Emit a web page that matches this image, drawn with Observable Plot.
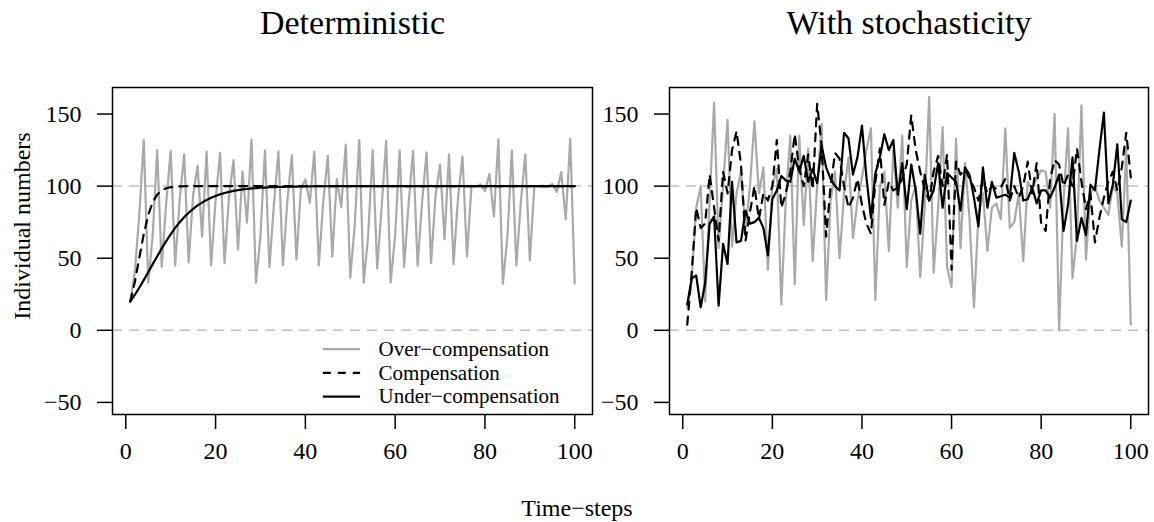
<!DOCTYPE html>
<html>
<head>
<meta charset="utf-8">
<script src="https://cdn.jsdelivr.net/npm/d3@7"></script>
<script src="https://cdn.jsdelivr.net/npm/@observablehq/plot@0.6"></script>
<style>
html, body { margin: 0; padding: 0; background: #fff; }
#wrap { position: relative; width: 1154px; height: 522px; overflow: hidden; font-family: "Liberation Serif", "Times New Roman", serif; }
#wrap svg { position: absolute; top: 0; background: transparent !important; }
#xlab { position: absolute; left: 0; width: 1154px; top: 496px; text-align: center; font-size: 24px; line-height: 24px; color: #000; }
</style>
</head>
<body>
<div id="wrap"><div id="xlab">Time−steps</div></div>
<script>
// ---- data ----
const timeSteps = d3.range(1, 101);
const panelTitles = ["Deterministic", "With stochasticity"];
const xTicks = [0, 20, 40, 60, 80, 100];
const yTicks = [-50, 0, 50, 100, 150];
const refLevels = [0, 100];
const legendLabels = ["Over−compensation", "Compensation", "Under−compensation"];
const yLabel = "Individual numbers";

// Deterministic
const detOver = [
  20, 40, 80, 132, 33, 66, 125, 44, 88, 124.5,
  45, 90, 122, 47, 94, 114, 65, 124, 45, 90,
  123, 46.5, 93, 118, 56, 110, 74.6, 132.2, 32.8, 65.6,
  124.7, 43.8, 87.6, 124, 45, 90, 121.5, 49, 98.2, 104.6,
  88.5, 124, 45, 90, 121, 51, 104.8, 85.4, 128.8, 36.5,
  73, 132, 33, 66, 125, 43, 86, 131.5, 33, 66,
  124.8, 44, 88, 124.5, 44.6, 89, 123.4, 46.7, 93.4, 115,
  63, 122, 46, 91.5, 120.7, 51, 100.2, 99.5, 101.3, 96.6,
  108.4, 79, 132.5, 32.3, 64.6, 124.6, 45, 89, 122, 48.5,
  99.6, 99.9, 100.3, 99.4, 101.6, 96, 109.7, 77, 132.7, 32.5
];
const detComp = [
  20, 33.3, 50, 66.7, 80, 88.9, 94.1, 97, 98.5, 99.2,
  99.6, 99.8, 99.9, 100, 100, 100, 100, 100, 100, 100,
  100, 100, 100, 100, 100, 100, 100, 100, 100, 100,
  100, 100, 100, 100, 100, 100, 100, 100, 100, 100,
  100, 100, 100, 100, 100, 100, 100, 100, 100, 100,
  100, 100, 100, 100, 100, 100, 100, 100, 100, 100,
  100, 100, 100, 100, 100, 100, 100, 100, 100, 100,
  100, 100, 100, 100, 100, 100, 100, 100, 100, 100,
  100, 100, 100, 100, 100, 100, 100, 100, 100, 100,
  100, 100, 100, 100, 100, 100, 100, 100, 100, 100
];
const detUnder = [
  20, 24.5, 29.5, 34.8, 40.3, 45.9, 51.4, 56.8, 61.9, 66.6,
  71, 74.9, 78.4, 81.5, 84.2, 86.6, 88.6, 90.4, 91.9, 93.2,
  94.3, 95.2, 96, 96.7, 97.2, 97.7, 98, 98.4, 98.6, 98.9,
  99, 99.2, 99.3, 99.4, 99.5, 99.6, 99.7, 99.7, 99.8, 99.8,
  99.8, 99.9, 99.9, 99.9, 99.9, 99.9, 100, 100, 100, 100,
  100, 100, 100, 100, 100, 100, 100, 100, 100, 100,
  100, 100, 100, 100, 100, 100, 100, 100, 100, 100,
  100, 100, 100, 100, 100, 100, 100, 100, 100, 100,
  100, 100, 100, 100, 100, 100, 100, 100, 100, 100,
  100, 100, 100, 100, 100, 100, 100, 100, 100, 100
];

// With stochasticity
const stoOver = [
  16, 35, 85, 100, 20, 90, 158, 57, 100, 146,
  58, 95, 110, 70, 100, 145, 95, 113, 42, 100,
  112, 18, 90, 135, 32, 135, 73, 126, 48, 100,
  143, 21, 90, 110, 50, 95, 120, 64, 90, 106,
  125, 140, 21, 100, 110, 55, 125, 85, 135, 44,
  90, 100, 37, 85, 162, 40, 85, 141, 44, 30,
  133, 57, 116, 78, 16, 80, 95, 55, 85, 88,
  77, 140, 71, 75, 95, 48, 103, 98, 105, 111,
  110, 85, 150, 0, 90, 140, 36, 67, 156, 49,
  95, 100, 90, 85, 80, 100, 95, 58, 126, 4
];
const stoComp = [
  4, 40, 85, 71, 74, 108, 85, 62, 110, 95,
  125, 138, 115, 62, 82, 100, 77, 95, 90, 100,
  132, 85, 95, 110, 136, 112, 100, 122, 98, 157,
  128, 65, 100, 123, 119, 100, 85, 92, 105, 87,
  74, 67, 103, 126, 87, 103, 97, 99, 105, 115,
  149, 125, 110, 98, 90, 110, 121, 100, 122, 42,
  117, 108, 112, 105, 99, 90, 105, 95, 100, 98,
  99, 105, 90, 100, 92, 100, 117, 95, 116, 74,
  69, 105, 118, 115, 100, 108, 100, 126, 103, 84,
  95, 61, 78, 92, 103, 110, 97, 113, 137, 106
];
const stoUnder = [
  18, 36, 38, 16, 33, 74, 79, 17, 60, 46,
  103, 61, 62, 83, 74, 75, 78, 71, 52, 91,
  97, 107, 104, 103, 119, 110, 121, 103, 112, 102,
  128, 113, 105, 100, 97, 137, 133, 108, 120, 142,
  106, 78, 109, 120, 136, 125, 132, 94, 116, 84,
  115, 97, 67, 108, 90, 97, 116, 85, 109, 106,
  103, 83, 113, 108, 92, 72, 113, 85, 103, 92,
  93, 94, 92, 123, 110, 90, 91, 99, 88, 97,
  97, 92, 99, 108, 69, 87, 120, 62, 78, 66,
  101, 97, 125, 151, 88, 101, 129, 77, 75, 90
];

// ---- styles (not data) ----
const seriesStyle = [
  {stroke: "#a9a9a9", dash: null},
  {stroke: "#000000", dash: "8,7"},
  {stroke: "#000000", dash: null}
];
const fmtY = d => (d < 0 ? "\u2212" : "") + Math.abs(d);

function rows(vals) { return timeSteps.map((t, i) => ({t, v: vals[i]})); }

const H = 522, MT = 87, MB = 108;
const xDomain = [1 - 0.04 * 99, 100 + 0.04 * 99];
const yDomain = [-50 - 0.04 * 210, 160 + 0.04 * 210];

function panel({title, series, width, marginLeft, marginRight, withYLabel, withLegend}) {
  const marks = [
    Plot.ruleY(refLevels, {stroke: "#bebebe", strokeWidth: 1.5, strokeDasharray: "10,7"}),
  ];
  series.forEach((vals, k) => {
    marks.push(Plot.line(rows(vals), {
      x: "t", y: "v",
      stroke: seriesStyle[k].stroke,
      strokeWidth: 2.2,
      strokeDasharray: seriesStyle[k].dash || undefined
    }));
  });
  marks.push(Plot.frame({stroke: "#000", strokeWidth: 1.5}));
  marks.push(Plot.axisX(xTicks, {tickSize: 15, tickPadding: 12, fontSize: 24, label: null, strokeWidth: 1.5}));
  marks.push(Plot.axisY(yTicks, {tickSize: 15, tickFormat: () => "", label: null, strokeWidth: 1.5}));
  marks.push(Plot.text(yTicks, {y: d => d, frameAnchor: "left", dx: -31, textAnchor: "end", lineAnchor: "middle", fontSize: 24, text: fmtY}));
  marks.push(Plot.text([title], {frameAnchor: "top", dy: -64, fontSize: 34, lineAnchor: "middle"}));
  if (withYLabel) {
    marks.push(Plot.text([yLabel], {frameAnchor: "left", dx: -90, dy: -25, rotate: -90, fontSize: 24, lineAnchor: "middle", textAnchor: "middle"}));
  }
  if (withLegend) {
    const legY = [-13, -29.5, -46];
    legendLabels.forEach((lab, k) => {
      marks.push(Plot.ruleY([legY[k]], {x1: 44, x2: 52.3, stroke: seriesStyle[k].stroke, strokeWidth: 2.2, strokeDasharray: seriesStyle[k].dash || undefined}));
      marks.push(Plot.text([lab], {x: 56.3, y: legY[k], textAnchor: "start", fontSize: 21, lineAnchor: "middle"}));
    });
  }
  return Plot.plot({
    width, height: H,
    marginLeft, marginRight, marginTop: MT, marginBottom: MB,
    x: {domain: xDomain},
    y: {domain: yDomain},
    style: {fontFamily: "'Liberation Serif', 'Times New Roman', serif", background: "transparent", color: "#000", overflow: "visible"},
    marks
  });
}

const wrap = document.getElementById("wrap");
const left = panel({title: panelTitles[0], series: [detOver, detComp, detUnder], width: 600, marginLeft: 112, marginRight: 8, withYLabel: true, withLegend: true});
left.style.left = "0px";
wrap.appendChild(left);
const right = panel({title: panelTitles[1], series: [stoOver, stoComp, stoUnder], width: 554, marginLeft: 69, marginRight: 6, withYLabel: false, withLegend: false});
right.style.left = "600px";
wrap.appendChild(right);
</script>
</body>
</html>
